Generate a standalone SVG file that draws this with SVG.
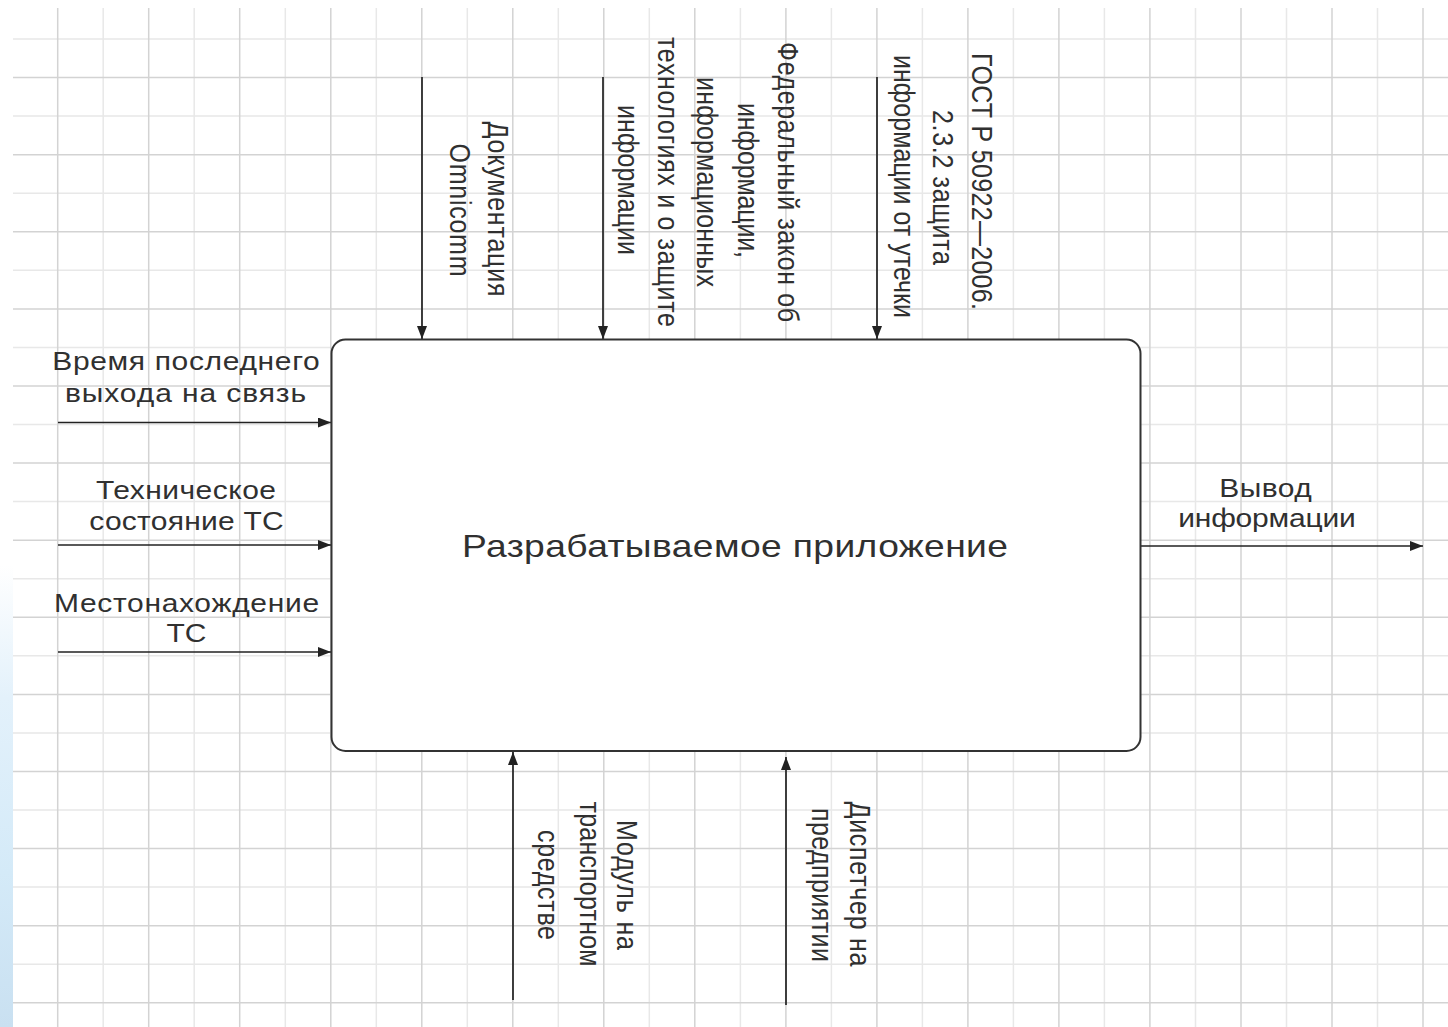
<svg xmlns="http://www.w3.org/2000/svg" width="1448" height="1027" viewBox="0 0 1448 1027">
<defs>
<linearGradient id="edge" x1="0" y1="0" x2="0" y2="1">
<stop offset="0" stop-color="#ffffff"/>
<stop offset="0.55" stop-color="#ffffff"/>
<stop offset="0.68" stop-color="#e3f1fb"/>
<stop offset="0.85" stop-color="#d4eaf8"/>
<stop offset="1" stop-color="#c9e0f1"/>
</linearGradient>
<marker id="ah" viewBox="0 0 13 10" refX="13" refY="5" markerWidth="13" markerHeight="10" markerUnits="userSpaceOnUse" orient="auto">
<path d="M0,0 L13,5 L0,10 z" fill="#222"/>
</marker>
<style>
.gl{stroke:#e8e8e8;stroke-width:1.5;fill:none}
.gd{stroke:#d3d3d3;stroke-width:1.5;fill:none}
.t{font-family:"Liberation Sans",Arial,sans-serif;fill:#303030;text-anchor:middle}
.h{font-size:25px}
.r{font-size:25px}
.ttl{font-size:31px}
.c{stroke:#222;stroke-width:1.7;fill:none;marker-end:url(#ah)}
.box{fill:#ffffff;stroke:#333;stroke-width:2}
</style>
</defs>
<rect x="0" y="0" width="1448" height="1027" fill="#ffffff"/>
<rect x="0" y="0" width="13" height="1027" fill="url(#edge)"/>
<g id="grid">
<path class="gl" d="M103.2,8V1027M194.2,8V1027M285.3,8V1027M376.3,8V1027M467.3,8V1027M558.3,8V1027M649.3,8V1027M740.4,8V1027M831.4,8V1027M922.4,8V1027M1013.4,8V1027M1104.4,8V1027M1195.5,8V1027M1286.5,8V1027M1377.5,8V1027
M13,39H1448M13,116.1H1448M13,193.2H1448M13,270.3H1448M13,347.4H1448M13,424.5H1448M13,501.6H1448M13,578.7H1448M13,655.8H1448M13,732.9H1448M13,810H1448M13,887.1H1448M13,964.2H1448"/>
<path class="gd" d="M57.7,8V1027M148.7,8V1027M239.7,8V1027M330.8,8V1027M421.8,8V1027M512.8,8V1027M603.8,8V1027M694.8,8V1027M785.9,8V1027M876.9,8V1027M967.9,8V1027M1058.9,8V1027M1149.9,8V1027M1241,8V1027M1332,8V1027M1423,8V1027
M13,77.6H1448M13,154.7H1448M13,231.8H1448M13,308.9H1448M13,386H1448M13,463.1H1448M13,540.2H1448M13,617.3H1448M13,694.4H1448M13,771.5H1448M13,848.6H1448M13,925.7H1448M13,1002.8H1448"/>
</g>
<g id="connectors">
<line class="c" x1="58" y1="422.5" x2="331" y2="422.5"/>
<line class="c" x1="58" y1="545" x2="331" y2="545"/>
<line class="c" x1="58" y1="652" x2="331" y2="652"/>
<line class="c" x1="1141" y1="546" x2="1423" y2="546"/>
<line class="c" x1="422" y1="77" x2="422" y2="339"/>
<line class="c" x1="603" y1="77" x2="603" y2="339"/>
<line class="c" x1="877" y1="77" x2="877" y2="339"/>
<line class="c" x1="513" y1="1000" x2="513" y2="752"/>
<line class="c" x1="786" y1="1005" x2="786" y2="757"/>
</g>
<g id="node-app">
<rect class="box" x="331.5" y="339.5" width="809" height="411.5" rx="14"/>
<text class="t ttl" transform="translate(735,557) scale(1.2,1)" textLength="455">Разрабатываемое приложение</text>
</g>
<g id="label-time">
<text class="t h" transform="translate(186,370) scale(1.2,1)" textLength="223">Время последнего</text>
<text class="t h" transform="translate(185.5,402) scale(1.2,1)" textLength="201">выхода на связь</text>
</g>
<g id="label-tech">
<text class="t h" transform="translate(186,499) scale(1.2,1)" textLength="150">Техническое</text>
<text class="t h" transform="translate(186.5,530) scale(1.2,1)" textLength="162">состояние ТС</text>
</g>
<g id="label-loc">
<text class="t h" transform="translate(186.5,612) scale(1.2,1)" textLength="221">Местонахождение</text>
<text class="t h" transform="translate(186.5,642) scale(1.2,1)">ТС</text>
</g>
<g id="label-out">
<text class="t h" transform="translate(1265.5,497) scale(1.2,1)" textLength="77">Вывод</text>
<text class="t h" transform="translate(1267,527) scale(1.2,1)" textLength="148">информации</text>
</g>
<g id="label-doc">
<text class="t r" transform="translate(488,209) scale(1.2,1) rotate(90)" textLength="175">Документация</text>
<text class="t r" transform="translate(450,210) scale(1.2,1) rotate(90)" textLength="133">Omnicomm</text>
</g>
<g id="label-law">
<text class="t r" transform="translate(778,182) scale(1.2,1) rotate(90)" textLength="280">Федеральный закон об</text>
<text class="t r" transform="translate(738,180.5) scale(1.2,1) rotate(90)" textLength="155">информации,</text>
<text class="t r" transform="translate(697,182) scale(1.2,1) rotate(90)" textLength="210">информационных</text>
<text class="t r" transform="translate(658,182) scale(1.2,1) rotate(90)" textLength="290">технологиях и о защите</text>
<text class="t r" transform="translate(618,180) scale(1.2,1) rotate(90)" textLength="150">информации</text>
</g>
<g id="label-gost">
<text class="t r" transform="translate(972,181.5) scale(1.2,1) rotate(90)" textLength="257">ГОСТ Р 50922—2006.</text>
<text class="t r" transform="translate(933,187.5) scale(1.2,1) rotate(90)" textLength="155">2.3.2 защита</text>
<text class="t r" transform="translate(894,186.5) scale(1.2,1) rotate(90)" textLength="263">информации от утечки</text>
</g>
<g id="label-module">
<text class="t r" transform="translate(617,885) scale(1.2,1) rotate(90)" textLength="130">Модуль на</text>
<text class="t r" transform="translate(580,884) scale(1.2,1) rotate(90)" textLength="165">транспортном</text>
<text class="t r" transform="translate(538,885) scale(1.2,1) rotate(90)" textLength="110">средстве</text>
</g>
<g id="label-dispatcher">
<text class="t r" transform="translate(850,884) scale(1.2,1) rotate(90)" textLength="165">Диспетчер на</text>
<text class="t r" transform="translate(812,885) scale(1.2,1) rotate(90)" textLength="154">предприятии</text>
</g>
</svg>
